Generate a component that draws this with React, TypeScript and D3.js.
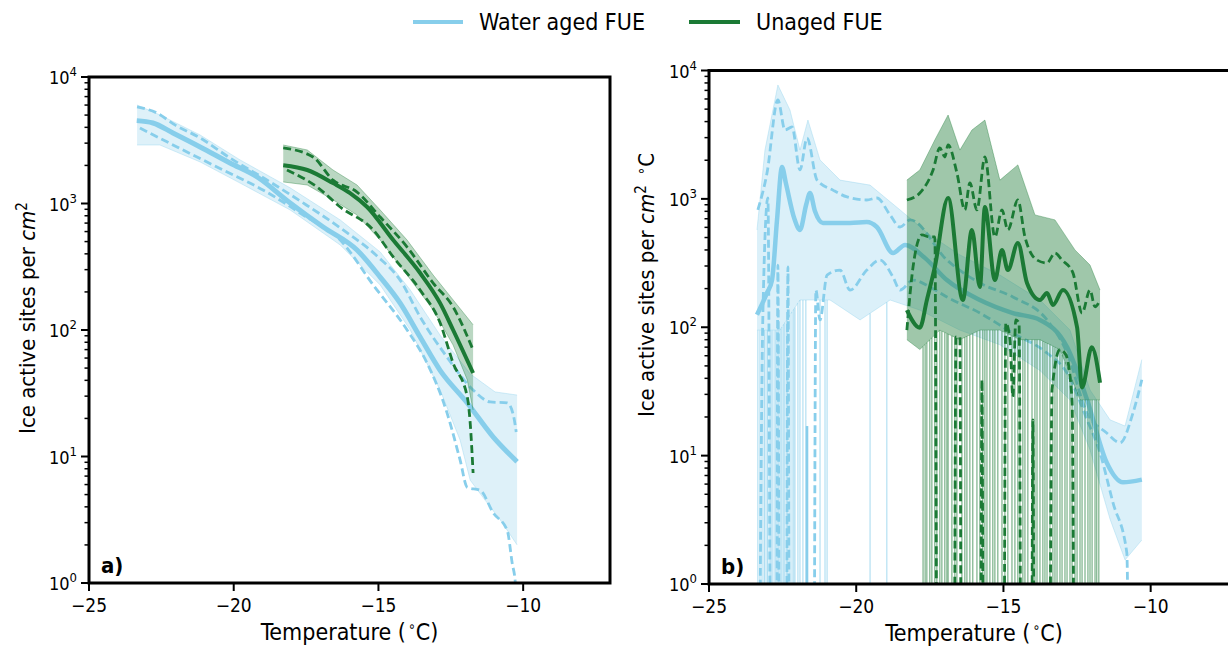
import React from "react";
import * as d3 from "d3";

type P = [number, number];

// ---------- axes ----------
const X_DOMAIN: P = [-25, -7];
const X_TICKS = [-25, -20, -15, -10];
const Y_DECADES = [0, 1, 2, 3, 4];

// ---------- panel a) cumulative spectra ----------
const aBlueMean: P[] = [[-23.35,4520],[-22.79,4330],[-22.10,3610],[-21.16,2800],[-20.13,2090],[-19.19,1620],[-18.05,1010],[-16.91,652],[-15.74,429],[-14.94,262],[-14.25,163],[-13.56,88],[-12.87,48],[-11.93,26.5],[-11.04,14.3],[-10.21,9.1]];
const aBlueUpper: P[] = [[-23.34,5800],[-22.65,5190],[-22.03,4180],[-21.16,3300],[-20.13,2290],[-18.74,1480],[-17.60,1010],[-16.22,618],[-15.05,385],[-14.25,248],[-13.56,127],[-12.63,61],[-11.73,33.6],[-11.14,27],[-10.55,26.5],[-10.34,21.3],[-10.24,15.6]];
const aBlueLower: P[] = [[-23.24,3950],[-21.96,2800],[-20.37,1840],[-18.99,1280],[-17.60,811],[-16.32,514],[-15.18,227],[-14.01,100],[-13.32,54.8],[-12.63,22.1],[-12.18,9.4],[-11.93,5.7],[-11.48,5.4],[-11.04,3.6],[-10.55,2.6],[-10.38,1.44],[-10.27,1.0],[-10.25,0]];
const aBlueBandHi: P[] = [[-23.34,6010],[-22.55,5010],[-21.16,3480],[-19.78,2210],[-18.05,1330],[-16.32,741],[-14.94,414],[-13.90,207],[-12.87,91],[-11.83,45],[-10.97,32.4],[-10.21,30.6]];
const aBlueBandLo: P[] = [[-23.34,2900],[-22.55,2900],[-21.16,2130],[-19.78,1450],[-18.05,889],[-16.32,470],[-14.94,227],[-13.90,100],[-12.87,33.6],[-12.18,13.5],[-11.83,6.5],[-11.31,4.5],[-10.79,3.15],[-10.21,2.0]];

const aGreenMean: P[] = [[-18.29,2010],[-17.46,1840],[-16.57,1450],[-15.98,1210],[-15.39,938],[-14.49,514],[-13.56,282],[-12.87,163],[-12.42,100],[-11.73,45.7]];
const aGreenUpper: P[] = [[-18.29,2750],[-17.26,2330],[-16.57,1530],[-15.74,1230],[-14.94,782],[-14.01,453],[-13.11,235],[-12.42,152],[-11.73,69.5]];
const aGreenLower: P[] = [[-18.16,1840],[-17.12,1350],[-16.32,938],[-15.18,618],[-14.49,378],[-13.56,207],[-12.87,114],[-12.42,54.8],[-11.93,29.5],[-11.83,18.4],[-11.73,7.4]];
const aGreenBandHi: P[] = [[-18.29,2900],[-17.46,2650],[-16.57,1840],[-15.74,1400],[-14.94,889],[-14.01,514],[-13.11,272],[-12.42,173],[-11.73,110]];
const aGreenBandLo: P[] = [[-18.29,1480],[-17.46,1400],[-16.57,1070],[-15.74,811],[-14.94,514],[-14.01,272],[-13.11,144],[-12.42,76],[-11.93,40.3],[-11.73,23.3]];

// ---------- panel b) differential spectra ----------
const bBlueMean: P[] = [[-23.37,125],[-23.03,185],[-22.86,233],[-22.69,686],[-22.52,1770],[-22.39,1330],[-22.10,700],[-21.91,573],[-21.70,900],[-21.57,1110],[-21.40,800],[-21.13,649],[-20.21,649],[-19.64,660],[-19.30,604],[-18.75,379],[-18.34,438],[-17.67,347],[-16.92,233],[-15.80,163],[-14.68,129],[-13.76,114],[-12.84,70],[-12.16,27.2],[-11.49,8.8],[-10.94,6.2],[-10.30,6.5]];
const bBlueUpper: P[] = [[-23.34,820],[-23.03,1590],[-22.66,5890],[-22.42,3440],[-22.18,3630],[-21.91,1680],[-21.67,2980],[-21.33,1400],[-20.79,1170],[-20.31,1035],[-19.64,980],[-19.30,1016],[-18.85,750],[-18.51,604],[-18.17,686],[-16.92,334],[-15.80,221],[-14.68,172],[-13.52,114],[-12.84,63],[-12.16,21.5],[-11.49,15],[-11.04,12.6],[-10.60,21.5],[-10.30,39]];
const bBlueLower: P[] = [[-23.34,0],[-23.17,125],[-23.00,1016],[-22.86,0],[-22.72,0],[-22.66,305],[-22.59,0],[-22.39,0],[-22.32,295],[-22.25,0],[-21.47,0],[-21.37,195],[-21.23,114],[-20.99,255],[-20.55,279],[-20.21,195],[-19.64,279],[-19.19,334],[-18.75,246],[-18.51,195],[-18.07,233],[-17.50,206],[-16.92,172],[-15.80,129],[-14.68,90],[-13.52,63],[-12.84,44],[-12.16,19],[-11.72,10.5],[-11.28,4.3],[-10.81,1.75],[-10.70,0]];
const bBlueBandHi: P[] = [[-23.37,573],[-23.10,2400],[-22.66,7710],[-22.25,4920],[-21.91,2400],[-21.64,4110],[-21.23,2010],[-20.55,1400],[-19.53,1280],[-18.51,820],[-17.50,524],[-16.48,366],[-15.12,255],[-13.76,163],[-12.74,95],[-12.06,32.5],[-11.38,19],[-10.87,17],[-10.30,56]];
const bBlueBandLo: P[] = [[-23.37,95],[-22.59,95],[-21.91,163],[-20.89,163],[-19.87,114],[-18.85,163],[-17.84,136],[-16.48,95],[-15.12,73],[-13.76,46],[-12.74,27.2],[-12.06,11.1],[-11.38,3.2],[-10.87,1.54],[-10.30,2.2]];
const bBlueDrops: number[] = [-23.34,-23.27,-23.20,-23.13,-23.10,-23.03,-23.00,-22.93,-22.89,-22.83,-22.76,-22.72,-22.66,-22.62,-22.56,-22.52,-22.46,-22.42,-22.36,-22.32,-22.25,-22.18,-22.12,-22.08,-21.98,-21.91,-21.81,-21.71,-21.23,-21.06,-20.99,-19.53,-18.96];
const bBlueSolidDrops: P[] = [[-21.67,17]];

const bGreenMean: P[] = [[-18.28,136],[-17.84,99],[-17.60,163],[-17.33,295],[-16.88,1016],[-16.38,163],[-16.07,573],[-15.80,206],[-15.63,865],[-15.29,233],[-15.05,400],[-14.85,279],[-14.51,454],[-14.20,221],[-13.76,163],[-13.52,185],[-13.32,149],[-12.98,195],[-12.50,100],[-12.33,34],[-12.00,70],[-11.72,37]];
const bGreenUpper: P[] = [[-18.28,980],[-17.84,1110],[-17.39,1680],[-17.16,2490],[-16.99,2120],[-16.88,2630],[-16.58,1590],[-16.31,820],[-16.14,1330],[-15.90,820],[-15.63,2120],[-15.29,505],[-15.05,820],[-14.85,573],[-14.51,980],[-14.27,505],[-13.86,334],[-13.52,317],[-13.25,379],[-13.01,334],[-12.64,265],[-12.33,129],[-12.06,195],[-11.89,144],[-11.72,163]];
const bGreenLower: P[] = [[-18.28,95],[-18.07,295],[-17.77,524],[-17.50,505],[-17.33,505],[-17.22,0],[-16.71,0],[-16.61,84],[-16.48,84],[-16.41,0],[-15.80,0],[-15.73,39],[-15.66,0],[-15.02,0],[-14.92,108],[-14.78,80],[-14.68,28.7],[-14.58,114],[-14.47,108],[-14.37,0],[-14.07,0],[-14.00,19],[-13.93,0],[-13.49,0],[-13.35,32.5],[-13.08,67],[-12.88,61],[-12.67,27.2],[-12.54,0],[-11.96,0]];
const bGreenBandHi: P[] = [[-18.28,1400],[-17.84,1680],[-17.33,2880],[-16.88,4500],[-16.48,2400],[-16.07,3440],[-15.63,4110],[-15.12,1400],[-14.51,1840],[-13.93,750],[-13.25,686],[-12.57,400],[-12.06,305],[-11.72,195]];
const bGreenBandLo: P[] = [[-18.28,80],[-17.84,67],[-17.16,95],[-16.48,80],[-15.80,95],[-15.12,95],[-14.44,80],[-13.76,80],[-13.08,67],[-12.40,27.2],[-11.72,27.2]];
const bGreenDrops: number[] = [-17.73,-17.66,-17.60,-17.50,-17.43,-17.33,-17.26,-17.16,-17.09,-16.99,-16.92,-16.88,-16.75,-16.65,-16.58,-16.41,-16.31,-16.24,-16.14,-16.04,-15.90,-15.80,-15.70,-15.63,-15.56,-15.46,-15.36,-15.29,-15.19,-15.05,-14.95,-14.85,-14.71,-14.61,-14.51,-14.44,-14.34,-14.27,-14.17,-14.03,-13.93,-13.86,-13.76,-13.66,-13.59,-13.52,-13.42,-13.32,-13.25,-13.18,-13.08,-13.01,-12.91,-12.84,-12.74,-12.67,-12.57,-12.50,-12.40,-12.33,-12.23,-12.13,-12.06,-11.99,-11.89,-11.83,-11.76];

const LEGEND = ["Water aged FUE", "Unaged FUE"];

const BLUE = "#87ceeb";
const GREEN = "#1b7a35";
const FONT = "'DejaVu Sans Condensed', 'DejaVu Sans', sans-serif";

type Series = {
  color: string; mean: P[]; upper: P[]; lower: P[]; bandHi: P[]; bandLo: P[];
  bandOpacity: number; meanWidth: number; dropOpacity?: number; drops?: number[]; solidDrops?: P[];
};

function interpLog(arr: P[], t: number): number {
  if (t <= arr[0][0]) return arr[0][1];
  for (let i = 0; i < arr.length - 1; i++) {
    const [t0, v0] = arr[i], [t1, v1] = arr[i + 1];
    if (t >= t0 && t <= t1) {
      const f = (t - t0) / (t1 - t0);
      return Math.pow(10, Math.log10(v0) + f * (Math.log10(v1) - Math.log10(v0)));
    }
  }
  return arr[arr.length - 1][1];
}

function Panel(props: {
  id: string; x0: number; x1: number; yTop: number; yBot: number;
  tag: string; ylabel: React.ReactNode; ylabelX: number; ylabelY: number; ylabelSize: number; series: Series[];
}) {
  const { id, x0, x1, yTop, yBot, tag, ylabel, ylabelX, ylabelY, ylabelSize, series } = props;
  const x = d3.scaleLinear().domain(X_DOMAIN).range([x0, x1]);
  const y = d3.scaleLog().domain([1, 1e4]).range([yBot, yTop]);
  const yv = (v: number) => (v > 0 ? y(v) : yBot + 400);
  const line = d3.line<P>().x((d) => x(d[0])).y((d) => yv(d[1])).curve(d3.curveMonotoneX);
  const poly = d3.line<P>().x((d) => x(d[0])).y((d) => yv(d[1]));
  const minor: number[] = [];
  for (let k = 0; k < 4; k++) for (let m = 2; m <= 9; m++) minor.push(m * Math.pow(10, k));
  const cx = (x0 + x1) / 2;

  return (
    <g>
      <defs>
        <clipPath id={id}>
          <rect x={x0} y={yTop} width={x1 - x0} height={yBot - yTop} />
        </clipPath>
      </defs>
      <g clipPath={`url(#${id})`}>
        {series.map((s, si) => (
          <g key={si}>
            <path d={(poly([...s.bandHi, ...[...s.bandLo].reverse()]) || "") + "Z"} fill={s.color} fillOpacity={s.bandOpacity} stroke="none" />
            <path d={poly(s.bandHi) || ""} fill="none" stroke={s.color} strokeOpacity={0.35} strokeWidth={1} />
            <path d={poly(s.bandLo) || ""} fill="none" stroke={s.color} strokeOpacity={0.35} strokeWidth={1} />
            {(s.drops || []).map((t, i) => (
              <line key={i} x1={x(t)} x2={x(t)} y1={yv(interpLog(s.bandLo, t))} y2={yBot} stroke={s.color} strokeOpacity={s.dropOpacity ?? 0.6} strokeWidth={1} />
            ))}
            {(s.solidDrops || []).map((d, i) => (
              <line key={"s" + i} x1={x(d[0])} x2={x(d[0])} y1={yv(d[1])} y2={yBot} stroke={s.color} strokeWidth={2.5} />
            ))}
            <path d={line(s.upper) || ""} fill="none" stroke={s.color} strokeWidth={2.8} strokeDasharray="8 4" />
            <path d={line(s.lower) || ""} fill="none" stroke={s.color} strokeWidth={2.8} strokeDasharray="8 4" />
            <path d={line(s.mean) || ""} fill="none" stroke={s.color} strokeWidth={s.meanWidth} strokeLinejoin="round" />
          </g>
        ))}
      </g>
      {/* frame */}
      <rect x={x0} y={yTop} width={x1 - x0} height={yBot - yTop} fill="none" stroke="#000" strokeWidth={3} />
      {/* y ticks */}
      {minor.map((v) => (
        <line key={v} x1={x0 - 4.5} x2={x0} y1={y(v)} y2={y(v)} stroke="#000" strokeWidth={1.5} />
      ))}
      {Y_DECADES.map((k) => (
        <g key={k}>
          <line x1={x0 - 8} x2={x0} y1={y(Math.pow(10, k))} y2={y(Math.pow(10, k))} stroke="#000" strokeWidth={2} />
          <text x={x0 - 12} y={y(Math.pow(10, k)) + 7} textAnchor="end" fontFamily={FONT} fontSize={18} fill="#000">
            10<tspan dy={-8} fontSize={13}>{k}</tspan>
          </text>
        </g>
      ))}
      {/* x ticks */}
      {X_TICKS.map((t) => (
        <g key={t}>
          <line x1={x(t)} x2={x(t)} y1={yBot} y2={yBot + 8} stroke="#000" strokeWidth={2} />
          <text x={x(t)} y={yBot + 29} textAnchor="middle" fontFamily={FONT} fontSize={19} fill="#000">
            {"\u2212" + Math.abs(t)}
          </text>
        </g>
      ))}
      <text x={cx} y={yBot + 57} textAnchor="middle" fontFamily={FONT} fontSize={23} fill="#000">
        Temperature (<tspan dx={2} dy={-9} fontSize={14}>{"\u2218"}</tspan><tspan dy={9}>C)</tspan>
      </text>
      <text transform={`translate(${ylabelX},${ylabelY}) rotate(-90)`} textAnchor="middle" fontFamily={FONT} fontSize={ylabelSize} fill="#000">
        {ylabel}
      </text>
      <text x={x0 + 12} y={yBot - 10} fontFamily={FONT} fontSize={22} fontWeight="bold" fill="#000">{tag}</text>
    </g>
  );
}

export default function App() {
  const aSeries: Series[] = [
    { color: BLUE, mean: aBlueMean, upper: aBlueUpper, lower: aBlueLower, bandHi: aBlueBandHi, bandLo: aBlueBandLo, bandOpacity: 0.28, meanWidth: 5 },
    { color: GREEN, mean: aGreenMean, upper: aGreenUpper, lower: aGreenLower, bandHi: aGreenBandHi, bandLo: aGreenBandLo, bandOpacity: 0.3, meanWidth: 4 },
  ];
  const bSeries: Series[] = [
    { color: BLUE, mean: bBlueMean, upper: bBlueUpper, lower: bBlueLower, bandHi: bBlueBandHi, bandLo: bBlueBandLo, bandOpacity: 0.3, meanWidth: 4.5, dropOpacity: 0.75, drops: bBlueDrops, solidDrops: bBlueSolidDrops },
    { color: GREEN, mean: bGreenMean, upper: bGreenUpper, lower: bGreenLower, bandHi: bGreenBandHi, bandLo: bGreenBandLo, bandOpacity: 0.42, meanWidth: 4, dropOpacity: 0.7, drops: bGreenDrops },
  ];
  return (
    <svg width={1228} height={646} style={{ position: "absolute", left: 0, top: 0, background: "#fff" }}>
      <rect x={0} y={0} width={1228} height={646} fill="#fff" />
      {/* legend */}
      <line x1={413} x2={463} y1={22} y2={22} stroke={BLUE} strokeWidth={4} />
      <text x={479} y={30} fontFamily={FONT} fontSize={23} fill="#000">{LEGEND[0]}</text>
      <line x1={689} x2={740} y1={22} y2={22} stroke={GREEN} strokeWidth={4} />
      <text x={756} y={30} fontFamily={FONT} fontSize={23} fill="#000">{LEGEND[1]}</text>

      <Panel id="clipA" x0={89} x1={610} yTop={77} yBot={583} tag="a)" ylabelX={35} ylabelY={318} ylabelSize={22} series={aSeries}
        ylabel={<>Ice active sites per <tspan fontStyle="italic">cm</tspan><tspan dy={-8} fontSize={15}>2</tspan></>} />
      <Panel id="clipB" x0={709} x1={1239} yTop={70.5} yBot={584} tag="b)" ylabelX={654} ylabelY={285} ylabelSize={22} series={bSeries}
        ylabel={<>Ice active sites per <tspan fontStyle="italic">cm</tspan><tspan dy={-8} fontSize={15}>2</tspan><tspan dx={10} dy={0} fontSize={15}>{"\u2218"}</tspan><tspan dy={8}>C</tspan></>} />
    </svg>
  );
}
